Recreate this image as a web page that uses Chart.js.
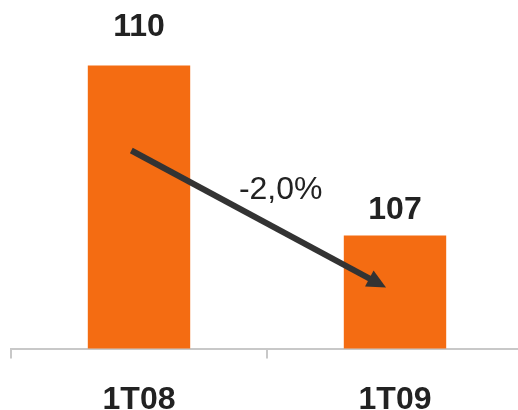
<!DOCTYPE html>
<html>
<head>
<meta charset="utf-8">
<script src="https://cdn.jsdelivr.net/npm/chart.js@4.4.0/dist/chart.umd.min.js"></script>
<style>
html,body{margin:0;padding:0;background:#fff;overflow:hidden;width:518px;height:410px;}
#wrap{width:530px;height:441px;}
</style>
</head>
<body>
<div id="wrap"><canvas id="c" width="530" height="441"></canvas></div>
<script>
const categories = ['1T08', '1T09'];
const values = [110, 107];
const valueLabels = ['110', '107'];
const changeLabel = '-2,0%';
// arrow endpoints in data space: [category index, value]
const arrowFrom = [-0.03, 108.5];
const arrowTo = [-0.035 + 1, 106.08];

const labelOffsets = [38, 25];

const barLabels = {
  id: 'barLabels',
  afterDatasetsDraw(chart) {
    const ctx = chart.ctx;
    const meta = chart.getDatasetMeta(0);
    ctx.save();
    ctx.font = 'bold 32px "Liberation Sans", Arial, sans-serif';
    ctx.fillStyle = '#222222';
    ctx.textAlign = 'center';
    ctx.textBaseline = 'middle';
    meta.data.forEach((bar, i) => {
      ctx.fillText(valueLabels[i], bar.x, bar.y - labelOffsets[i]);
    });
    ctx.restore();
  }
};

const arrowPlugin = {
  id: 'arrowPlugin',
  afterDatasetsDraw(chart) {
    const ctx = chart.ctx;
    const xs = chart.scales.x, ys = chart.scales.y;
    const x0 = xs.getPixelForValue(arrowFrom[0]), y0 = ys.getPixelForValue(arrowFrom[1]);
    const x1 = xs.getPixelForValue(arrowTo[0]), y1 = ys.getPixelForValue(arrowTo[1]);
    const ang = Math.atan2(y1 - y0, x1 - x0);
    const headLen = 19, headW = 9;
    const bx = x1 - headLen * Math.cos(ang), by = y1 - headLen * Math.sin(ang);
    ctx.save();
    ctx.strokeStyle = '#333333';
    ctx.fillStyle = '#333333';
    ctx.lineWidth = 6;
    ctx.lineCap = 'butt';
    ctx.beginPath();
    ctx.moveTo(x0, y0);
    ctx.lineTo(bx + 2 * Math.cos(ang), by + 2 * Math.sin(ang));
    ctx.stroke();
    ctx.beginPath();
    ctx.moveTo(x1, y1);
    ctx.lineTo(bx + headW * Math.sin(ang), by - headW * Math.cos(ang));
    ctx.lineTo(bx - headW * Math.sin(ang), by + headW * Math.cos(ang));
    ctx.closePath();
    ctx.fill();
    // change label
    const mx = (x0 + x1) / 2, my = (y0 + y1) / 2;
    ctx.font = '32px "Liberation Sans", Arial, sans-serif';
    ctx.fillStyle = '#222222';
    ctx.textAlign = 'center';
    ctx.textBaseline = 'middle';
    ctx.fillText(changeLabel, mx + 22, my - 29);
    ctx.restore();
  }
};

new Chart(document.getElementById('c'), {
  type: 'bar',
  data: {
    labels: categories,
    datasets: [{
      data: values,
      backgroundColor: '#F46C12',
      borderWidth: 0,
      barPercentage: 0.4,
      categoryPercentage: 1.0
    }]
  },
  options: {
    responsive: false,
    animation: false,
    devicePixelRatio: 1,
    layout: { padding: { left: 11, right: 7, top: 9, bottom: 0 } },
    plugins: { legend: { display: false }, tooltip: { enabled: false } },
    scales: {
      y: { display: false, min: 105, max: 111 },
      x: {
        border: { display: true, color: '#c8c8c8', width: 2 },
        grid: { display: true, offset: true, drawOnChartArea: false, drawTicks: true, tickLength: 10, color: '#c8c8c8', lineWidth: 2 },
        ticks: { color: '#222222', padding: 22, font: { family: '"Liberation Sans", Arial, sans-serif', size: 32, weight: 'bold' } }
      }
    }
  },
  plugins: [barLabels, arrowPlugin]
});
</script>
</body>
</html>
